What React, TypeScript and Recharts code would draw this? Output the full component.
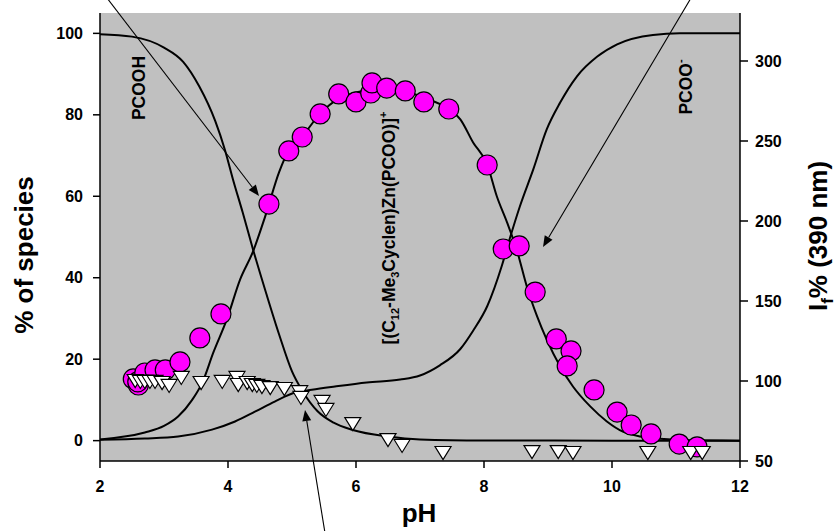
import { ComposedChart, Line, Scatter, XAxis, YAxis, CartesianGrid } from 'recharts';

// species distribution curves (% of species, left axis)
const pcoohPH = [2.0, 2.5, 3.0, 3.3, 3.55, 3.8, 3.95, 4.08, 4.23, 4.39, 4.6, 4.8, 5.0, 5.17, 5.4, 5.65, 5.95, 6.5, 7.0, 8.0, 10.0, 12.0];
const pcoohPct = [99.8, 99.2, 96.5, 93, 87, 78.5, 71.5, 64, 56, 47, 36, 26, 17, 12, 7.2, 4.4, 2.6, 1, 0.3, 0.05, 0, 0];

const complexPH = [2.0, 2.7, 3.0, 3.22, 3.44, 3.6, 3.77, 3.98, 4.19, 4.39, 4.58, 4.8, 4.95, 5.16, 5.44, 5.73, 6.0, 6.25, 6.5, 6.77, 7.06, 7.45, 7.63, 7.83, 8.05, 8.2, 8.36, 8.52, 8.67, 8.83, 8.98, 9.19, 9.39, 9.66, 9.92, 10.17, 10.44, 10.7, 11.2, 12.0];
const complexPct = [0.3, 2, 3.6, 5.9, 10, 14.3, 21.6, 29.7, 39.6, 46.4, 55, 66, 71.3, 74.7, 80.3, 84, 85.5, 86.3, 86.5, 85.8, 84.2, 81.4, 78.9, 73.2, 67.8, 60, 53.6, 46.4, 37.8, 30.5, 24.8, 18.2, 13.3, 8.4, 4.7, 2.2, 1, 0.5, 0.1, 0];

const pcooPH = [2.0, 2.7, 3.22, 3.75, 4.11, 4.42, 4.73, 5.05, 5.31, 5.67, 6.17, 6.69, 7.0, 7.31, 7.63, 7.83, 8.05, 8.28, 8.41, 8.56, 8.77, 8.98, 9.19, 9.45, 9.77, 10.08, 10.64, 11.06, 12.0];
const pcooPct = [0.2, 0.5, 1, 2.7, 4.7, 7.1, 9.6, 11.8, 12.5, 13.3, 14.3, 15, 16, 18.5, 22.5, 27, 33, 43, 50, 57.5, 66.6, 76.4, 83, 89.4, 94.3, 97.3, 99.6, 100, 100];

// fluorescence intensity (right axis)
const circlePH = [2.52, 2.6, 2.59, 2.7, 2.86, 3.02, 3.25, 3.56, 3.89, 4.64, 4.95, 5.16, 5.44, 5.73, 6.0, 6.23, 6.25, 6.48, 6.77, 7.06, 7.45, 8.05, 8.3, 8.55, 8.8, 9.13, 9.36, 9.3, 9.72, 10.08, 10.3, 10.61, 11.05, 11.33];
const circleIf = [101.3, 97.5, 99.5, 105, 106.9, 106.9, 111.9, 126.9, 141.9, 210.6, 243.8, 252.5, 266.9, 279.4, 274.4, 280, 286.3, 283.1, 281.3, 274.4, 270, 235, 182.5, 184.4, 155.6, 126.3, 118.8, 109.4, 94.4, 80.6, 72.5, 66.9, 60.6, 58.8];

const trianglePH = [2.55, 2.63, 2.7, 2.78, 2.86, 2.97, 3.08, 3.27, 3.58, 3.91, 4.14, 4.16, 4.3, 4.38, 4.45, 4.53, 4.66, 4.88, 5.12, 5.14, 5.47, 5.53, 5.95, 6.5, 6.72, 7.36, 8.75, 9.16, 9.39, 10.56, 11.23, 11.41];
const triangleIf = [100, 99.4, 99.4, 99.4, 99.4, 98.75, 96.9, 101.9, 98.75, 99.4, 101.9, 97.5, 98.75, 97.5, 96.9, 96.25, 95.6, 95, 93, 89.4, 86.9, 81.9, 73.1, 63.1, 59.4, 55, 55.6, 55.6, 55, 55, 55, 55];

const xTicks = [2, 4, 6, 8, 10, 12];
const leftTicks = [0, 20, 40, 60, 80, 100];
const rightTicks = [50, 100, 150, 200, 250, 300];

const zip = (xs: number[], ys: number[]) => xs.map((x, i) => ({ x, y: ys[i] }));

const pcooh = zip(pcoohPH, pcoohPct);
const complex = zip(complexPH, complexPct);
const pcoo = zip(pcooPH, pcooPct);
const circles = zip(circlePH, circleIf);
const triangles = zip(trianglePH, triangleIf);

const FONT = "'Liberation Sans', Arial, sans-serif";
const tickStyle = { fontSize: 16, fontWeight: 700, fill: '#000', fontFamily: FONT };

const CircleDot = (p: any) => (
  <circle cx={p.cx} cy={p.cy} r={10} fill="#ff00ff" stroke="#000" strokeWidth={1.2} />
);

const DownTriangle = (p: any) => {
  const w = 8, h = 6.5;
  return (
    <polygon
      points={`${p.cx - w},${p.cy - h} ${p.cx + w},${p.cy - h} ${p.cx},${p.cy + h}`}
      fill="#fff"
      stroke="#000"
      strokeWidth={1.2}
    />
  );
};

function Arrow({ x1, y1, x2, y2 }: { x1: number; y1: number; x2: number; y2: number }) {
  const a = Math.atan2(y2 - y1, x2 - x1);
  const len = 11, half = 4.5;
  const bx = x2 - len * Math.cos(a);
  const by = y2 - len * Math.sin(a);
  const pts = [
    [x2, y2],
    [bx + half * Math.sin(a), by - half * Math.cos(a)],
    [bx - half * Math.sin(a), by + half * Math.cos(a)],
  ].map((q) => q.join(',')).join(' ');
  return (
    <g>
      <line x1={x1} y1={y1} x2={bx} y2={by} stroke="#000" strokeWidth={1.1} />
      <polygon points={pts} fill="#000" />
    </g>
  );
}

export default function App() {
  return (
    <div style={{ position: 'relative', width: 837, height: 531, background: '#fff' }}>
      <style>{'body{margin:0}'}</style>
      <ComposedChart width={837} height={531} margin={{ top: 13, right: 0, bottom: 0, left: 0 }}>
        <CartesianGrid yAxisId="left" fill="#c0c0c0" horizontal={false} vertical={false} />
        <XAxis
          dataKey="x"
          type="number"
          domain={[2, 12]}
          ticks={xTicks}
          height={70}
          tickSize={7}
          tickMargin={13}
          tick={tickStyle}
          stroke="#000"
          strokeWidth={1.5}
          allowDataOverflow
        />
        <XAxis xAxisId="top" orientation="top" dataKey="x" type="number" domain={[2, 12]} height={0} tick={false} tickLine={false} stroke="#000" strokeWidth={1.5} />
        <YAxis
          yAxisId="left"
          type="number"
          domain={[-5, 105]}
          ticks={leftTicks}
          width={100}
          tickSize={7}
          tickMargin={10}
          tick={tickStyle}
          stroke="#000"
          strokeWidth={1.5}
          allowDataOverflow
        />
        <YAxis
          yAxisId="right"
          orientation="right"
          type="number"
          domain={[50, 330]}
          ticks={rightTicks}
          width={97}
          tickSize={8}
          tickMargin={7}
          tick={tickStyle}
          stroke="#000"
          strokeWidth={1.5}
          allowDataOverflow
        />
        <Line yAxisId="left" data={pcooh} dataKey="y" type="monotone" dot={false} stroke="#000" strokeWidth={2} isAnimationActive={false} />
        <Line yAxisId="left" data={complex} dataKey="y" type="monotone" dot={false} stroke="#000" strokeWidth={2} isAnimationActive={false} />
        <Line yAxisId="left" data={pcoo} dataKey="y" type="monotone" dot={false} stroke="#000" strokeWidth={2} isAnimationActive={false} />
        <Scatter yAxisId="right" data={circles} dataKey="y" shape={CircleDot} isAnimationActive={false} />
        <Scatter yAxisId="right" data={triangles} dataKey="y" shape={DownTriangle} isAnimationActive={false} />
      </ComposedChart>

      <svg width={837} height={531} style={{ position: 'absolute', left: 0, top: 0, pointerEvents: 'none' }} fontFamily={FONT} fontWeight={700}>
        <text transform="translate(33 255) rotate(-90)" textAnchor="middle" fontSize={26}>% of species</text>
        <text x={419} y={522} textAnchor="middle" fontSize={26}>pH</text>
        <text transform="translate(827 236) rotate(-90)" textAnchor="middle" fontSize={26}>
          I<tspan fontSize={17} dy={6}>f</tspan><tspan dy={-6}>% (390 nm)</tspan>
        </text>

        <text transform="translate(145 88) rotate(-90)" textAnchor="middle" fontSize={17.5}>PCOOH</text>
        <text transform="translate(692 87) rotate(-90)" textAnchor="middle" fontSize={17.5}>
          PCOO<tspan fontSize={11} dy={-8}>-</tspan>
        </text>
        <text transform="translate(395 228) rotate(-90)" textAnchor="middle" fontSize={17.5}>
          [(C<tspan fontSize={11} dy={4}>12</tspan><tspan dy={-4}>-Me</tspan><tspan fontSize={11} dy={4}>3</tspan><tspan dy={-4}>Cyclen)Zn(PCOO)]</tspan><tspan fontSize={11} dy={-8}>+</tspan>
        </text>

        <Arrow x1={107} y1={-2} x2={259} y2={196} />
        <Arrow x1={691} y1={-2} x2={543} y2={247} />
        <Arrow x1={325} y1={533} x2={305} y2={410} />
      </svg>
    </div>
  );
}
